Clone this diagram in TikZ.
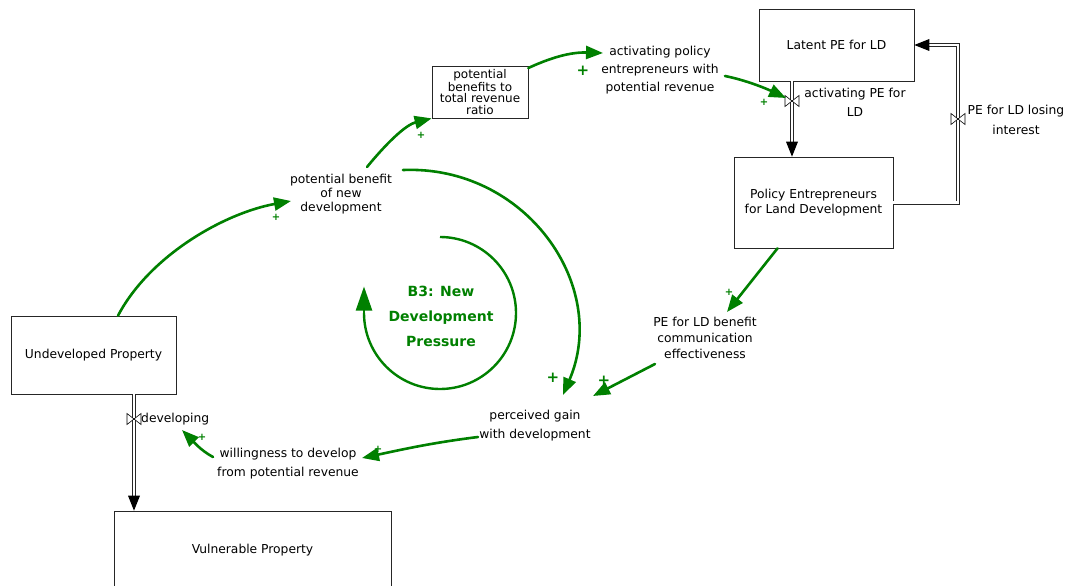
\documentclass[tikz,border=0pt]{standalone}
\usepackage{fontspec}
\setmainfont{DejaVu Sans}
\usetikzlibrary{arrows.meta,calc}
\definecolor{cldgreen}{RGB}{0,128,0}
\begin{document}
\begin{tikzpicture}[x=1pt,y=-1pt,
  stockbox/.style={draw=black!85,line width=0.7pt,inner sep=0pt,align=center,
    font=\fontsize{12.3}{15}\selectfont},
  lbl/.style={align=center,inner sep=1pt,font=\fontsize{12.3}{#1}\selectfont},
  lbl/.default=14,
  link/.style={draw=cldgreen,line width=2.6pt,line cap=round,
    -{Triangle[length=17pt,width=13pt]}},
  pipe/.style={draw=black!85,double=white,double distance=2.6pt,line width=0.7pt},
  plussmall/.style={text=cldgreen,inner sep=0pt,font=\bfseries\fontsize{10}{10}\selectfont},
  plusbig/.style={text=cldgreen,inner sep=0pt,font=\bfseries\fontsize{15}{15}\selectfont},
  looptext/.style={text=cldgreen,align=center,font=\bfseries\fontsize{14}{25}\selectfont},
  valve/.pic={\draw[fill=white,line width=0.6pt] (-7,-5.5) -- (7,5.5) -- (7,-5.5) -- (-7,5.5) -- cycle;}
]
\useasboundingbox[fill=white] (0,0) rectangle (1074,586);

% stocks
\node[stockbox,minimum width=155pt,minimum height=72pt] (latent) at (836.5,45) {Latent PE for LD};
\node[stockbox,minimum width=159pt,minimum height=91pt] (policy) at (813.5,202.5) {Policy Entrepreneurs\\for Land Development};
\node[stockbox,minimum width=165pt,minimum height=78pt] (undev) at (93.5,355) {Undeveloped Property};
\node[stockbox,minimum width=277pt,minimum height=78pt] (vuln) at (252.5,550) {Vulnerable Property};
\node[stockbox,minimum width=96pt,minimum height=52pt,
  font=\fontsize{12}{11.3}\selectfont] (ratio) at (480,92) {potential\\benefits to\\total revenue\\ratio};

% auxiliary variables
\node[lbl=14] (pb) at (341,194) {potential benefit\\of new\\development};
\node[lbl=18] (apr) at (660,70) {activating policy\\entrepreneurs with\\potential revenue};
\node[lbl=16] (pebc) at (705,338) {PE for LD benefit\\communication\\effectiveness};
\node[lbl=19] (pg) at (535,426) {perceived gain\\with development};
\node[lbl=19] (wd) at (288,464) {willingness to develop\\from potential revenue};

% valves on the flows
\coordinate (v1) at (792,101);
\coordinate (v2) at (958,119);
\coordinate (v3) at (134,419);

% flow: activating PE for LD
\draw[pipe] (latent.south -| v1) -- ($(policy.north -| v1)+(0,-13)$);
\fill[black] (policy.north -| v1) -- ++(-6,-15) -- ++(12,0) -- cycle;
\pic at (v1) {valve};
\node[lbl=19] (apl) at (855,102) {activating PE for\\LD};

% flow: PE for LD losing interest
\draw[pipe] (policy.east) -| (v2) |- ($(latent.east)+(14,0)$);
\fill[black] (latent.east) -- ++(15,-6) -- ++(0,12) -- cycle;
\pic at (v2) {valve};
\node[lbl=20] (lil) at (1016,120) {PE for LD losing\\interest};

% flow: developing
\draw[pipe] (undev.south -| v3) -- ($(vuln.north -| v3)+(0,-13)$);
\fill[black] (vuln.north -| v3) -- ++(-6,-15) -- ++(12,0) -- cycle;
\pic at (v3) {valve};
\node[lbl,anchor=west] (devl) at (140,419) {developing};

% link end points
\coordinate (pbIn) at (291,201);
\coordinate (pbOutA) at (367,167);
\coordinate (pbOutB) at (403,170);
\coordinate (aprIn) at (603,53);
\coordinate (aprOut) at (725,76);
\coordinate (v1In) at (786,98);
\coordinate (pebcIn) at (727,312);
\coordinate (pebcOut) at (655,364);
\coordinate (pgInA) at (563,395);
\coordinate (pgInB) at (593,396);
\coordinate (pgOut) at (478,437);
\coordinate (wdIn) at (362,458);
\coordinate (wdOut) at (213,457);
\coordinate (devIn) at (182,430);

% causal links
\draw[link] ([xshift=24.5]undev.north) .. controls (150,255) and (225,213) .. (pbIn);
\draw[link] (pbOutA) .. controls (385,145) and (405,125) .. (ratio.south west);
\draw[link] ([shift={(0,-24)}]ratio.east) .. controls (550,58) and (570,52) .. (aprIn);
\draw[link] (aprOut) .. controls (745,80) and (765,88) .. (v1In);
\draw[link] (pbOutB) .. controls (525,165) and (610,285) .. (pgInA);
\draw[link] ([xshift=-36]policy.south) -- (pebcIn);
\draw[link] (pebcOut) -- (pgInB);
\draw[link] (pgOut) .. controls (430,443) and (400,450) .. (wdIn);
\draw[link] (wdOut) .. controls (200,450) and (192,440) .. (devIn);

% polarities
\node[plussmall] (p1) at (276,217) {+};
\node[plussmall] (p2) at (421,135) {+};
\node[plusbig] (p3) at (583,71) {+};
\node[plussmall] (p4) at (764,102) {+};
\node[plusbig] (p5) at (553,378) {+};
\node[plussmall] (p6) at (729,292) {+};
\node[plusbig] (p7) at (604,381) {+};
\node[plussmall] (p8) at (378,449) {+};
\node[plussmall] (p9) at (202,437) {+};

% balancing loop marker
\coordinate (lc) at (440,313);
\draw[draw=cldgreen,line width=2.4pt] ([shift={(0,-76)}]lc) arc[start angle=-90,end angle=180,radius=76] coordinate (larc);
\draw[draw=cldgreen,line width=2.4pt,-{Triangle[length=24pt,width=16pt]}] ([yshift=0.5]larc) -- ++(0,-26);
\node[looptext] (b3) at (441,316) {B3: New\\Development\\Pressure};
\end{tikzpicture}
\end{document}
